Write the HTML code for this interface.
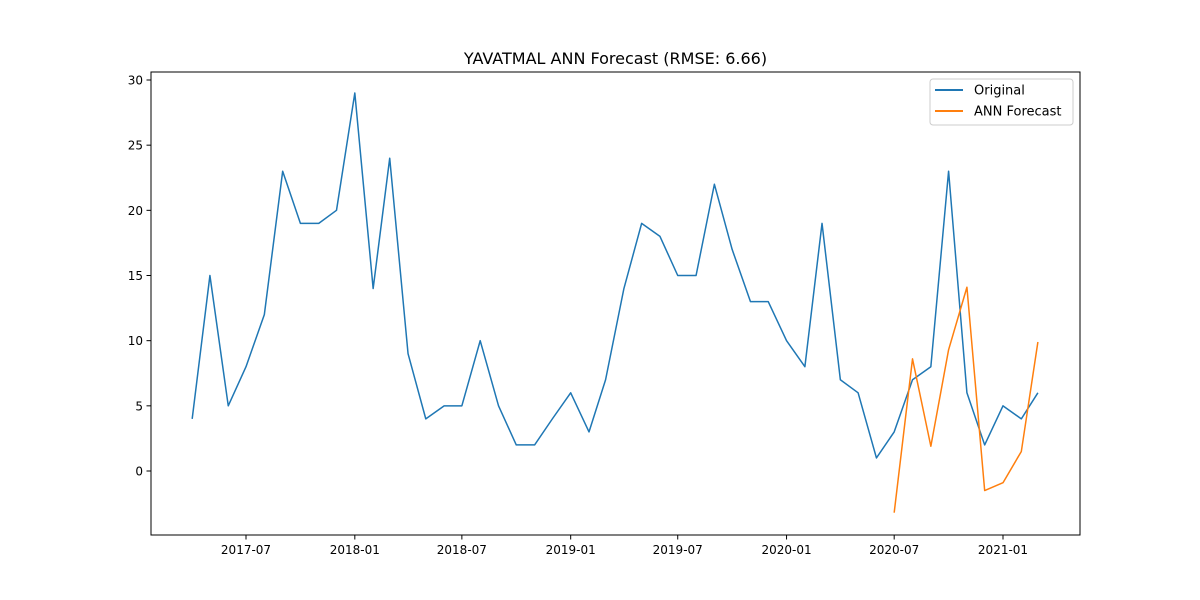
<!DOCTYPE html>
<html><head><meta charset="utf-8"><style>
html,body{margin:0;padding:0;background:#fff;}
svg{display:block;font-family:"DejaVu Sans","Liberation Sans",sans-serif;}
</style></head><body>
<svg id="c" width="1200" height="600" xmlns="http://www.w3.org/2000/svg"></svg>
<script>
const origStart = [2017, 4];
const origValues = [4,15,5,8,12,23,19,19,20,29,14,24,9,4,5,5,10,5,2,2,4,6,3,7,14,19,18,15,15,22,17,13,13,10,8,19,7,6,1,3,7,8,23,6,2,5,4,6];
const fcStart = [2020, 7];
const fcValues = [-3.2,8.6,1.9,9.3,14.1,-1.5,-0.9,1.5,9.9];
const yTicks = [0,5,10,15,20,25,30];
const xTicks = ["2017-07","2018-01","2018-07","2019-01","2019-07","2020-01","2020-07","2021-01"];

const NS="http://www.w3.org/2000/svg";
const svg=document.getElementById('c');
function el(t,a,p){const e=document.createElementNS(NS,t);for(const k in a)e.setAttribute(k,a[k]);(p||svg).appendChild(e);return e;}
const day=(y,m)=>Date.UTC(y,m-1,1)/864e5;
const d0=day(2017,7), d1=day(2021,1);
const X=d=>246+(d-d0)*(1003-246)/(d1-d0);
const Y=v=>471-v*(471-80)/30;
const L=151,R=1080,T=72,B=535;

const title=el('text',{x:615.5,y:64,'text-anchor':'middle','font-size':16,fill:'#000'});
title.textContent='YAVATMAL ANN Forecast (RMSE: 6.66)';



yTicks.forEach(v=>{
  const y=Y(v);
  const tk=el('line',{x1:L-4.5,x2:L,y1:y,y2:y,stroke:'#000','stroke-width':1});
  
  
  const t=el('text',{x:L-8,y:y+4.5,'text-anchor':'end','font-size':12,fill:'#000'});
  t.textContent=v;
  
  
});
xTicks.forEach(s=>{
  const [yy,mm]=s.split('-').map(Number);
  const x=X(day(yy,mm));
  const tk=el('line',{x1:x,x2:x,y1:B,y2:B+4.5,stroke:'#000','stroke-width':1});
  
  
  const t=el('text',{x:x,y:B+19,'text-anchor':'middle','font-size':12,fill:'#000'});
  t.textContent=s;
  
  
});

function series(start,vals,color,name){
  const pts=vals.map((v,i)=>{const m=start[1]-1+i;return X(day(start[0]+Math.floor(m/12),m%12+1)).toFixed(2)+','+Y(v).toFixed(2);});
  const p=el('polyline',{points:pts.join(' '),fill:'none',stroke:color,'stroke-width':1.5,'stroke-linejoin':'round'});
  
  
}
series(origStart,origValues,'#1f77b4','original-line');
series(fcStart,fcValues,'#ff7f0e','ann-forecast-line');

const frame=el('rect',{x:L,y:T,width:R-L,height:B-T,fill:'none',stroke:'#000','stroke-width':1});



const lg=el('g',{});


el('rect',{x:930,y:79,width:143,height:46,rx:3,fill:'#fff',stroke:'#ccc','stroke-width':1},lg);
[['Original','#1f77b4'],['ANN Forecast','#ff7f0e']].forEach(([n,c],i)=>{
  const y=90+i*21;
  const ln=el('line',{x1:935,x2:963,y1:y,y2:y,stroke:c,'stroke-width':2},lg);
  
  
  const t=el('text',{x:974,y:y+4.5,'font-size':13,fill:'#000'},lg);
  t.textContent=n;
  
  
});
</script>
</body></html>
